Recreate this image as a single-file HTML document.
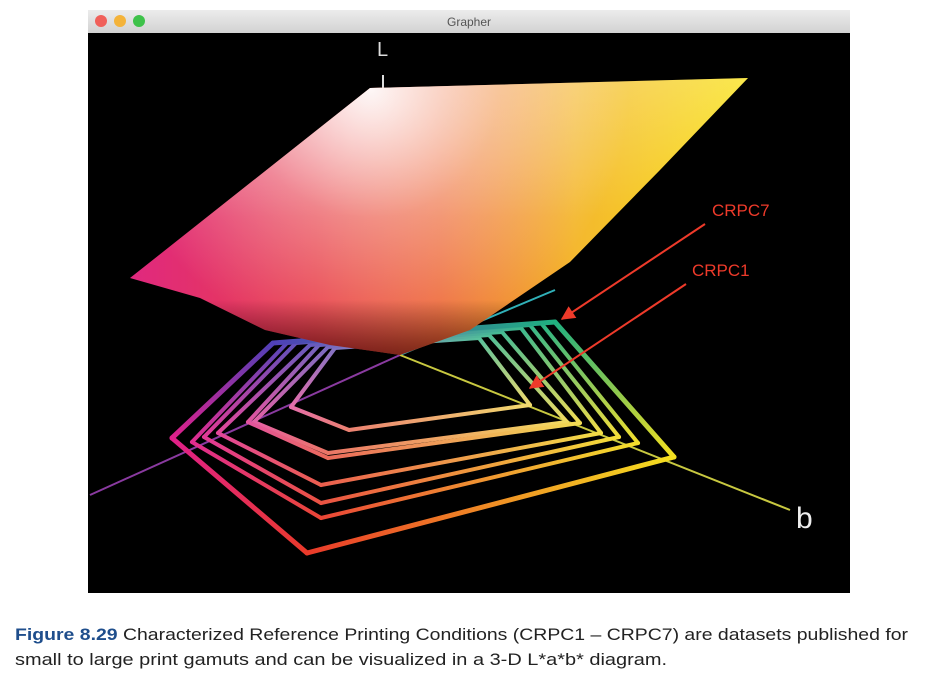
<!DOCTYPE html>
<html><head><meta charset="utf-8"><style>
html,body{margin:0;padding:0;background:#fff;}
svg{display:block;font-family:"Liberation Sans",sans-serif;}
</style></head><body>
<svg id="fig" width="938" height="689" viewBox="0 0 938 689">
<defs>
<linearGradient id="tb" x1="0" y1="0" x2="0" y2="1"><stop offset="0" stop-color="#ececec"/><stop offset="1" stop-color="#d2d2d2"/></linearGradient>
<linearGradient id="surfH" gradientUnits="userSpaceOnUse" x1="130" y1="0" x2="748" y2="0">
<stop offset="0" stop-color="#e0287f"/><stop offset="0.3" stop-color="#e8404a"/><stop offset="0.5" stop-color="#ee6a3a"/><stop offset="0.72" stop-color="#f4b830"/><stop offset="1" stop-color="#f8e010"/></linearGradient>
<radialGradient id="surfW" gradientUnits="userSpaceOnUse" cx="370" cy="88" r="260">
<stop offset="0" stop-color="#fff" stop-opacity="0.95"/><stop offset="0.5" stop-color="#fff" stop-opacity="0.35"/><stop offset="1" stop-color="#fff" stop-opacity="0"/></radialGradient>
<linearGradient id="surfV" gradientUnits="userSpaceOnUse" x1="0" y1="80" x2="0" y2="355">
<stop offset="0" stop-color="#fff" stop-opacity="0.25"/><stop offset="0.5" stop-color="#fff" stop-opacity="0"/><stop offset="0.8" stop-color="#000" stop-opacity="0"/><stop offset="1" stop-color="#300" stop-opacity="0.6"/></linearGradient>
<marker id="ah" viewBox="0 0 10 10" refX="9" refY="5" markerWidth="7" markerHeight="7" orient="auto"><path d="M0,0 L10,5 L0,10 z" fill="#ee3a2a"/></marker>
</defs>
<rect x="88" y="10" width="762" height="23" fill="url(#tb)"/>
<circle cx="101" cy="21" r="6" fill="#f0605a"/>
<circle cx="120" cy="21" r="6" fill="#f4b33a"/>
<circle cx="139" cy="21" r="6" fill="#3ec24a"/>
<text x="469" y="26" font-size="12" fill="#555" text-anchor="middle">Grapher</text>
<rect x="88" y="33" width="762" height="560" fill="#000"/>
<g id="axes">
<line x1="400" y1="355" x2="90" y2="495" stroke="#8a3aa0" stroke-width="2"/>
<line x1="400" y1="355" x2="555" y2="290" stroke="#30b0b8" stroke-width="2"/>
<line x1="400" y1="355" x2="790" y2="510" stroke="#c8c840" stroke-width="2"/>
<line x1="383" y1="75" x2="383" y2="95" stroke="#ddd" stroke-width="2"/>
<text x="377" y="56" font-size="20" fill="#ddd" font-weight="lighter">L</text>
<text x="796" y="528" font-size="30" fill="#eee">b</text>
</g>
<g id="gamuts"></g>
<g>
<path d="M370,88 L748,78 L660,170 L570,262 L470,330 L400,355 L330,345 L265,330 L200,298 L130,278 Z" fill="url(#surfH)"/>
<path d="M370,88 L748,78 L660,170 L570,262 L470,330 L400,355 L330,345 L265,330 L200,298 L130,278 Z" fill="url(#surfW)"/>
<path d="M370,88 L748,78 L660,170 L570,262 L470,330 L400,355 L330,345 L265,330 L200,298 L130,278 Z" fill="url(#surfV)"/>
</g>
<g>
<text x="712" y="216" font-size="17" fill="#ee3a2a">CRPC7</text>
<line x1="705" y1="224" x2="562" y2="319" stroke="#ee3a2a" stroke-width="2" marker-end="url(#ah)"/>
<text x="692" y="276" font-size="17" fill="#ee3a2a">CRPC1</text>
<line x1="686" y1="284" x2="530" y2="388" stroke="#ee3a2a" stroke-width="2" marker-end="url(#ah)"/>
</g>
<text x="15" y="640" font-size="17" fill="#222" textLength="893" lengthAdjust="spacingAndGlyphs"><tspan fill="#1f4e8c" font-weight="bold">Figure 8.29</tspan>  Characterized Reference Printing Conditions (CRPC1 – CRPC7) are datasets published for</text>
<text x="15" y="665" font-size="17" fill="#222" textLength="652" lengthAdjust="spacingAndGlyphs">small to large print gamuts and can be visualized in a 3-D L*a*b* diagram.</text>
</svg>
<script>
// gamut outlines: vertices [left(magenta), bottom(red), right(yellow), top-right(green), top-left(blue)]
const curveNames = ["CRPC1","CRPC2","CRPC3","CRPC4","CRPC5","CRPC6","CRPC7"];
const vertX = [
 [291,349,530,479,335],
 [254,328,567,489,328],
 [248,328,580,502,319],
 [218,321,601,521,310],
 [204,321,619,530,296],
 [192,321,638,541,287],
 [172,307,674,555,273]
];
const vertY = [
 [407,430,405,338,348],
 [422,453,422,335,347],
 [422,458,423,332,345],
 [433,485,433,328,345],
 [437,503,437,325,343],
 [442,518,443,323,343],
 [438,553,457,322,343]
];
const vertColors = ["#e0208a","#ea3a2a","#f5e020","#20b080","#5040b8"];
const paleColors = ["#e890b8","#eca090","#f0d890","#70c8a8","#9888c8"];
const svgNS = "http://www.w3.org/2000/svg";
const g = document.getElementById('gamuts');
const defs = document.querySelector('defs');
function mix(a,b,t){
  const pa=parseInt(a.slice(1),16),pb=parseInt(b.slice(1),16);
  const r=Math.round(((pa>>16)&255)*(1-t)+((pb>>16)&255)*t);
  const gg=Math.round(((pa>>8)&255)*(1-t)+((pb>>8)&255)*t);
  const bb=Math.round((pa&255)*(1-t)+(pb&255)*t);
  return 'rgb('+r+','+gg+','+bb+')';
}
curveNames.forEach((name,ci)=>{
  const grp = document.createElementNS(svgNS,'g');
  
  
  const pale = (6-ci)/6*0.7;
  for(let i=0;i<5;i++){
    const j=(i+1)%5;
    const id='gr'+ci+'_'+i;
    const lg=document.createElementNS(svgNS,'linearGradient');
    lg.setAttribute('id',id);lg.setAttribute('gradientUnits','userSpaceOnUse');
    lg.setAttribute('x1',vertX[ci][i]);lg.setAttribute('y1',vertY[ci][i]);
    lg.setAttribute('x2',vertX[ci][j]);lg.setAttribute('y2',vertY[ci][j]);
    [i,j].forEach((vi,k)=>{const s=document.createElementNS(svgNS,'stop');s.setAttribute('offset',k);s.setAttribute('stop-color',mix(vertColors[vi],paleColors[vi],pale));lg.appendChild(s);});
    defs.appendChild(lg);
    const ln=document.createElementNS(svgNS,'line');
    
    
    ln.setAttribute('x1',vertX[ci][i]);ln.setAttribute('y1',vertY[ci][i]);
    ln.setAttribute('x2',vertX[ci][j]);ln.setAttribute('y2',vertY[ci][j]);
    ln.setAttribute('stroke','url(#'+id+')');
    ln.setAttribute('stroke-width', ci===6?5:4);
    ln.setAttribute('stroke-linecap','round');
    grp.appendChild(ln);
  }
  g.appendChild(grp);
});
</script>
</body></html>
